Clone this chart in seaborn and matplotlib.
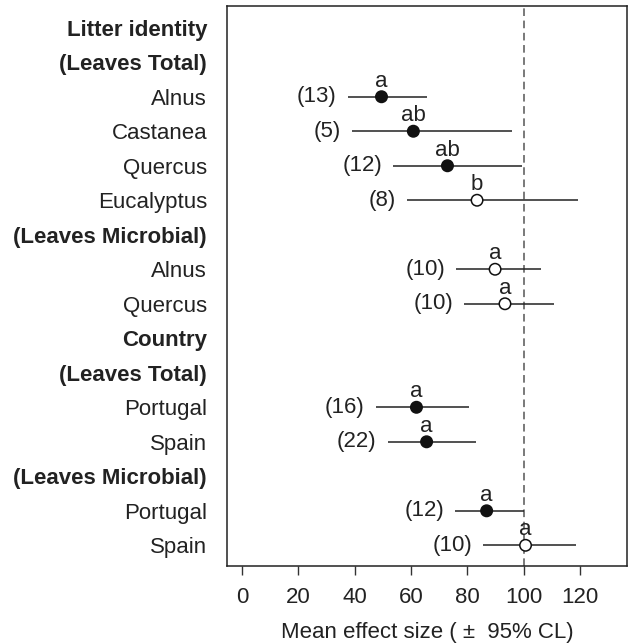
import numpy as np
import pandas as pd
import matplotlib
matplotlib.use("Agg")
import matplotlib.pyplot as plt
import seaborn as sns

labels = ["Litter identity", "(Leaves Total)", "Alnus", "Castanea", "Quercus", "Eucalyptus",
          "(Leaves Microbial)", "Alnus", "Quercus", "Country", "(Leaves Total)", "Portugal",
          "Spain", "(Leaves Microbial)", "Portugal", "Spain"]
is_header = [True, True, False, False, False, False, True, False, False, True, True, False,
             False, True, False, False]
means = [np.nan, np.nan, 49.5, 60.8, 72.9, 83.4, np.nan, 89.8, 93.3, np.nan, np.nan, 61.9,
         65.5, np.nan, 86.8, 100.6]
ci_low = [np.nan, np.nan, 37.5, 38.9, 53.7, 58.4, np.nan, 76.0, 78.8, np.nan, np.nan, 47.5,
          51.7, np.nan, 75.6, 85.5]
ci_high = [np.nan, np.nan, 65.5, 95.9, 99.2, 119.3, np.nan, 106.0, 110.8, np.nan, np.nan, 80.4,
           83.1, np.nan, 100.0, 118.4]
n_obs = ["", "", "(13)", "(5)", "(12)", "(8)", "", "(10)", "(10)", "", "", "(16)", "(22)", "",
         "(12)", "(10)"]
letters = ["", "", "a", "ab", "ab", "b", "", "a", "a", "", "", "a", "a", "", "a", "a"]
filled = [None, None, True, True, True, False, None, False, False, None, None, True, True, None,
          True, False]
xticks = [0, 20, 40, 60, 80, 100, 120]

sns.set_style("ticks")
plt.rcParams["font.family"] = ["Liberation Sans", "DejaVu Sans"]

FS = 16
TXT = "#222222"

df = pd.DataFrame({"row": np.arange(len(labels)), "mean": means, "lo": ci_low, "hi": ci_high,
                   "filled": [("filled" if f else "open") if f is not None else None for f in filled]})
dd = df.dropna(subset=["mean"])

fig = plt.figure(figsize=(6.28, 6.44), dpi=100)
ax = fig.add_axes([0.3615, 0.1211, 0.998 - 0.3615, 0.9907 - 0.1211])

ax.axvline(100, color="#555555", linestyle=(0, (5, 3)), linewidth=1.1, zorder=1)
ax.hlines(dd["row"], dd["lo"], dd["hi"], color="#222222", linewidth=1.1, zorder=2)
sns.scatterplot(data=dd, x="mean", y="row", hue="filled",
                palette={"filled": "#111111", "open": "white"},
                edgecolor="#111111", linewidth=1.1, s=68, legend=False, ax=ax, zorder=3)

for i, r in dd.iterrows():
    ax.text(r["mean"], r["row"] - 0.45, letters[i], ha="center", va="center", fontsize=FS,
            color=TXT)
    ax.text(r["lo"] - 3.9, r["row"], n_obs[i], ha="right", va="center", fontsize=FS,
            color=TXT)

ax.set_xlim(-5.3, 136.5)
ax.set_ylim(15.6, -0.63)
ax.set_xticks(xticks)
ax.set_xticklabels([str(t) for t in xticks], fontsize=FS, color=TXT)
ax.set_yticks(range(len(labels)))
ax.set_yticklabels(labels, fontsize=FS, color=TXT)
for tl, h in zip(ax.get_yticklabels(), is_header):
    if h:
        tl.set_fontweight("bold")
ax.tick_params(axis="y", length=0, pad=14.4)
ax.tick_params(axis="x", length=6.5, width=1, color="#333333", pad=8.5)
ax.set_xlabel("Mean effect size ( \u00b1  95% CL)", fontsize=FS, color=TXT, labelpad=10)
ax.set_ylabel("")
for s in ax.spines.values():
    s.set_color("#222222")
    s.set_linewidth(1.1)

fig.savefig("out.png", dpi=100)
